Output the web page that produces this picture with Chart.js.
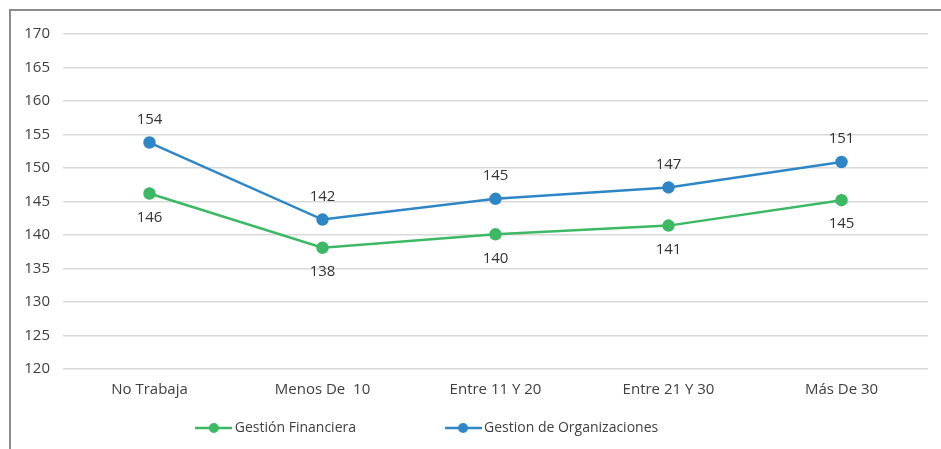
<html>
<head>
    <script src="https://cdn.jsdelivr.net/npm/chart.js"></script>
    <style>
        body { margin: 0; background: white; font-family: "Open Sans", sans-serif; }
        .frame { position: absolute; left: 9px; top: 9px; width: 940px; height: 450px;
                 border-top: 2px solid #8c8c8c; border-left: 2px solid #8c8c8c; }
        .wrap { position: absolute; left: 0; top: 0; width: 941px; height: 449px; }
    </style>
</head>
<body>
    <div class="frame"></div>
    <div class="wrap"><canvas id="chart" width="941" height="449"></canvas></div>

    <script>
        const categorias = ['No Trabaja', 'Menos De  10', 'Entre 11 Y 20', 'Entre 21 Y 30', 'Más De 30'];
        const financiera = [146.2, 138.1, 140.1, 141.4, 145.2];
        const organizaciones = [153.8, 142.3, 145.4, 147.1, 150.9];
        const yMin = 120, yMax = 170, yPaso = 5;

        const verde = '#3db864';
        const azul = '#2f86c6';

        // icono de leyenda: linea con punto
        function iconoLeyenda(color) {
            const c = document.createElement('canvas');
            c.width = 37; c.height = 12;
            const g = c.getContext('2d');
            g.strokeStyle = color; g.lineWidth = 2.5;
            g.beginPath(); g.moveTo(0, 6); g.lineTo(37, 6); g.stroke();
            g.fillStyle = color;
            g.beginPath(); g.arc(18.5, 6, 5, 0, Math.PI * 2); g.fill();
            return c;
        }

        // etiquetas de valores: azul arriba, verde abajo
        const etiquetas = {
            id: 'etiquetas',
            afterDatasetsDraw(chart) {
                const ctx = chart.ctx;
                ctx.save();
                ctx.font = '15px "Open Sans"';
                ctx.fillStyle = '#333';
                ctx.textAlign = 'center';
                ctx.textBaseline = 'middle';
                chart.data.datasets.forEach((ds, i) => {
                    const meta = chart.getDatasetMeta(i);
                    meta.data.forEach((p, j) => {
                        const dy = ds.posEtiqueta === 'arriba' ? -23 : 24;
                        ctx.fillText(Math.round(ds.data[j]), p.x, p.y + dy);
                    });
                });
                ctx.restore();
            }
        };

        // la leyenda ocupa poco alto aunque tenga mucho espacio horizontal
        const altoLeyenda = 38;
        const ajusteLeyenda = {
            id: 'ajusteLeyenda',
            beforeLayout(chart) {
                const lg = chart.legend;
                if (lg && !lg._ajustada) {
                    const fitOrig = lg.fit;
                    lg.fit = function () { fitOrig.call(this); this.height = altoLeyenda; };
                    lg._ajustada = true;
                }
            },
            afterLayout(chart) {
                const lg = chart.legend;
                const pad = lg.options.labels.padding;
                lg.top = 428 - pad - 7;
                lg.bottom = chart.height;
                lg.left -= 35;
                lg.right -= 35;
            }
        };

        new Chart(document.getElementById('chart').getContext('2d'), {
            type: 'line',
            data: {
                labels: categorias,
                datasets: [{
                    label: 'Gestión Financiera',
                    data: financiera,
                    borderColor: verde,
                    backgroundColor: verde,
                    borderWidth: 2.5,
                    pointRadius: 5,
                    pointStyle: 'circle',
                    posEtiqueta: 'abajo'
                }, {
                    label: 'Gestion de Organizaciones',
                    data: organizaciones,
                    borderColor: azul,
                    backgroundColor: azul,
                    borderWidth: 2.5,
                    pointRadius: 5,
                    pointStyle: 'circle',
                    posEtiqueta: 'arriba'
                }]
            },
            options: {
                responsive: false,
                animation: false,
                elements: { line: { tension: 0 } },
                layout: { padding: { top: 34, right: 13, bottom: 0, left: 0 } },
                scales: {
                    x: {
                        offset: true,
                        grid: { display: false, drawTicks: false },
                        border: { display: false },
                        ticks: { color: '#404040', font: { family: 'Open Sans', size: 15 }, padding: 12 }
                    },
                    y: {
                        min: yMin, max: yMax,
                        grid: { color: '#d9d9d9', lineWidth: 1.5, drawTicks: false },
                        border: { display: false },
                        ticks: { stepSize: yPaso, color: '#404040', font: { family: 'Open Sans', size: 15 }, padding: 13 },
                        afterFit: s => { s.width = 63; }
                    }
                },
                plugins: {
                    legend: {
                        position: 'bottom',
                        labels: {
                            usePointStyle: true,
                            pointStyleWidth: 28,
                            boxHeight: 12,
                            padding: 93,
                            color: '#404040',
                            font: { family: 'Open Sans', size: 14 },
                            generateLabels(chart) {
                                const items = Chart.defaults.plugins.legend.labels.generateLabels(chart);
                                items.forEach((it, i) => {
                                    it.pointStyle = iconoLeyenda(chart.data.datasets[i].borderColor);
                                });
                                return items;
                            }
                        }
                    },
                    tooltip: { enabled: false }
                }
            },
            plugins: [etiquetas, ajusteLeyenda]
        });
    </script>
</body>
</html>
